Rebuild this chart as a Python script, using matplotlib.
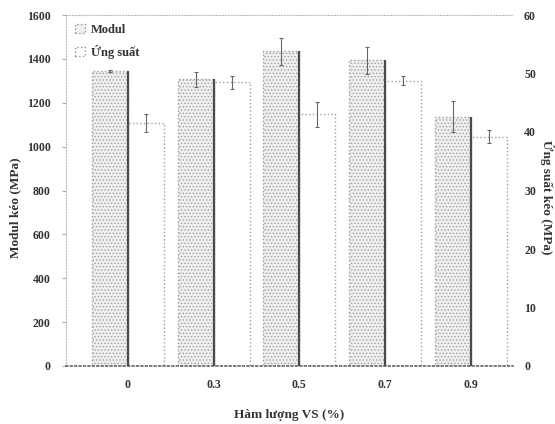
import numpy as np
import matplotlib
matplotlib.use("Agg")
import matplotlib.pyplot as plt
from matplotlib.patches import Patch

plt.rcParams['font.family'] = ['Liberation Serif', 'DejaVu Serif']
plt.rcParams['font.weight'] = 'bold'
plt.rcParams['hatch.color'] = '#d0d0d0'
plt.rcParams['hatch.linewidth'] = 0.6

# data
vs_content = ['0', '0.3', '0.5', '0.7', '0.9']
modul = [1345, 1306, 1435, 1393, 1137]
modul_err = [6, 34, 62, 60, 70]
ung_suat = [41.5, 48.5, 43.0, 48.8, 39.2]
ung_suat_err = [1.5, 1.1, 2.2, 0.85, 1.1]

x = np.arange(len(vs_content))
w = 0.42

fig = plt.figure(figsize=(5.55, 4.24), dpi=100)
ax = fig.add_axes([66/555, 1-366/424, 447/555, 351/424])
ax2 = ax.twinx()

ax.bar(x - w/2, modul, w, color='#efefef', hatch='.....', edgecolor='#a0a0a0',
       linestyle=':', linewidth=1.0, zorder=2)
ax.vlines(x, 0, modul, color='#4a4a4a', linewidth=1.6, zorder=3)
ax.errorbar(x - w/2, modul, yerr=modul_err, fmt='none', ecolor='#666666',
            elinewidth=0.8, capsize=1.5, capthick=0.8, zorder=4)

ax2.bar(x + w/2, ung_suat, w, color='white', edgecolor='#a0a0a0',
        linestyle=':', linewidth=1.0, zorder=2)
ax2.errorbar(x + w/2, ung_suat, yerr=ung_suat_err, fmt='none', ecolor='#666666',
             elinewidth=0.8, capsize=1.5, capthick=0.8, zorder=4)

ax.set_xlim(-0.72, 4.49)
ax.set_ylim(0, 1600)
ax2.set_ylim(0, 60)
ax.set_yticks(np.arange(0, 1601, 200))
ax2.set_yticks(np.arange(0, 61, 10))
ax.set_xticks(x)
ax.set_xticklabels(vs_content)

for a in (ax, ax2):
    for s in a.spines.values():
        s.set_visible(False)
ax.spines['left'].set_visible(True)
ax.spines['left'].set_color('#bbbbbb')
ax.spines['left'].set_linestyle(':')
ax.spines['bottom'].set_visible(True)
ax.spines['bottom'].set_color('#666666')
ax.spines['bottom'].set_linestyle(':')
ax.spines['bottom'].set_linewidth(1.2)
ax.spines['top'].set_visible(True)
ax.spines['top'].set_color('#bbbbbb')
ax.spines['top'].set_linestyle(':')

ax.tick_params(axis='y', length=3, color='#aaaaaa', pad=8, labelsize=8.5, labelcolor='#333333')
ax.tick_params(axis='x', length=0, pad=9, labelsize=8.5, labelcolor='#333333')
ax2.tick_params(axis='y', length=0, pad=8, labelsize=8.5, labelcolor='#333333')

ax.set_ylabel('Modul kéo (MPa)', fontsize=9.5, color='#333333', fontweight='bold')
ax.yaxis.set_label_coords(-0.1, 0.45)
ax2.set_ylabel('Ứng suất kéo (MPa)', fontsize=9.5, color='#333333', fontweight='bold',
               rotation=270, va='center')
ax2.yaxis.set_label_coords(1.075, 0.48)
ax.set_xlabel('Hàm lượng VS (%)', fontsize=9.5, color='#333333', fontweight='bold', labelpad=13)

handles = [Patch(facecolor='#efefef', edgecolor='#999999', linestyle=':', label='Modul'),
           Patch(facecolor='white', edgecolor='#999999', linestyle=':', label='Ứng suất')]
leg = ax.legend(handles=handles, loc='upper left', bbox_to_anchor=(0.0, 1.0), frameon=False,
                fontsize=9, handlelength=0.8, handleheight=0.8, handletextpad=0.5,
                labelspacing=0.7, borderaxespad=0.3)
for t in leg.get_texts():
    t.set_color('#333333')
ax.set_zorder(ax2.get_zorder() + 1)
ax.patch.set_visible(False)

fig.savefig('out.png', dpi=100)
